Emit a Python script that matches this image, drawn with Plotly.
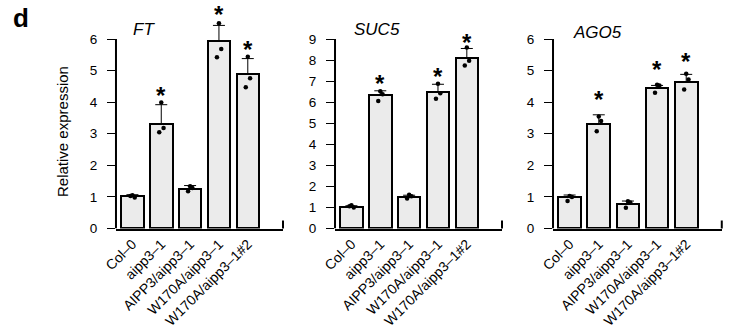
import plotly.graph_objects as go

# ---------------- data ----------------
categories = ["Col–0", "aipp3–1", "AIPP3/aipp3–1",
              "W170A/aipp3–1", "W170A/aipp3–1#2"]

ft_mean = [1.02, 3.32, 1.26, 5.93, 4.88]
ft_err = [0.05, 0.60, 0.10, 0.50, 0.50]
ft_reps = [[1.05, 0.98, 1.03], [3.99, 3.18, 3.05], [1.34, 1.28, 1.18],
           [6.50, 5.68, 5.42], [5.44, 4.76, 4.47]]
ft_star = [None, 4.28, None, 6.83, 5.73]

suc5_mean = [1.00, 6.32, 1.48, 6.50, 8.10]
suc5_err = [0.08, 0.22, 0.10, 0.35, 0.45]
suc5_reps = [[1.11, 1.00, 1.06], [6.52, 6.38, 6.05], [1.60, 1.53, 1.42],
             [6.88, 6.42, 6.16], [8.60, 7.97, 7.74]]
suc5_star = [None, 7.00, None, 7.30, 8.92]

ago5_mean = [1.00, 3.32, 0.78, 4.45, 4.64]
ago5_err = [0.06, 0.28, 0.09, 0.08, 0.24]
ago5_reps = [[1.03, 1.00, 0.87], [3.55, 3.40, 3.08], [0.86, 0.82, 0.66],
             [4.55, 4.53, 4.30], [4.90, 4.72, 4.40]]
ago5_star = [None, 4.15, None, 5.10, 5.35]

gene_titles = ["FT", "SUC5", "AGO5"]
y_max = [6, 9, 6]

# ---------------- style ----------------
FONT = "Liberation Sans, Arial, Helvetica, sans-serif"
BAR_FILL = "#ebebeb"
W, H = 735, 333
x_domains = [[0.1578, 0.385], [0.4558, 0.683], [0.7524, 0.982]]
y0_px, ytop_px = 228.5, 39.0          # pixel rows of 0 and of the top tick
headroom = 1.2                         # extra range above top tick (for error bars / stars)
dom_bottom = 1 - y0_px / H
dom_top = 1 - (y0_px - headroom * (y0_px - ytop_px)) / H
x_range = [-0.57, 5.22]
rep_offsets = [0.0, 0.08, -0.07]

panels = [
    (ft_mean, ft_err, ft_reps, ft_star),
    (suc5_mean, suc5_err, suc5_reps, suc5_star),
    (ago5_mean, ago5_err, ago5_reps, ago5_star),
]

fig = go.Figure()
xpos = list(range(len(categories)))

for p, (mean, err, reps, star) in enumerate(panels):
    xa = "x" if p == 0 else f"x{p+1}"
    ya = "y" if p == 0 else f"y{p+1}"
    fig.add_trace(go.Bar(
        x=xpos, y=mean, xaxis=xa, yaxis=ya, width=0.78,
        marker=dict(color=BAR_FILL, line=dict(color="black", width=2)),
        error_y=dict(type="data", symmetric=False, array=err,
                     arrayminus=[0] * len(err), color="black",
                     thickness=1, width=6),
        cliponaxis=False, showlegend=False, hoverinfo="skip"))
    dx, dy = [], []
    for i, vals in enumerate(reps):
        for k, v in enumerate(vals):
            dx.append(i + rep_offsets[k])
            dy.append(v)
    fig.add_trace(go.Scatter(
        x=dx, y=dy, xaxis=xa, yaxis=ya, mode="markers",
        marker=dict(color="black", size=4.5),
        cliponaxis=False, showlegend=False, hoverinfo="skip"))
    # significance asterisks
    for i, s in enumerate(star):
        if s is None:
            continue
        fig.add_annotation(x=xpos[i], y=s, xref=xa, yref=ya, text="<b>*</b>",
                           showarrow=False, yshift=-2, xanchor="center",
                           yanchor="middle",
                           font=dict(family=FONT, size=24, color="black"))

layout = dict(
    width=W, height=H, margin=dict(l=0, r=0, t=0, b=0, autoexpand=False),
    paper_bgcolor="white", plot_bgcolor="white",
    font=dict(family=FONT, color="black"),
    bargap=0,
)
for p in range(3):
    xk = "xaxis" if p == 0 else f"xaxis{p+1}"
    yk = "yaxis" if p == 0 else f"yaxis{p+1}"
    layout[xk] = dict(
        domain=x_domains[p], range=x_range, anchor="y" if p == 0 else f"y{p+1}",
        showline=True, linecolor="black", linewidth=2, showgrid=False,
        zeroline=False, tickvals=xpos, ticktext=categories, ticks="",
        tickangle=-45, automargin=False,
        tickfont=dict(size=14, family=FONT, color="black"))
    layout[yk] = dict(
        domain=[dom_bottom, dom_top], range=[0, y_max[p] * headroom],
        tickvals=list(range(y_max[p] + 1)),
        anchor="x" if p == 0 else f"x{p+1}",
        showline=False, showgrid=False, automargin=False,
        zeroline=False, ticks="outside", ticklen=8, tickwidth=1, tickcolor="black",
        ticklabelstandoff=7,
        tickfont=dict(size=13.5, family=FONT, color="black"))
fig.update_layout(**layout)

for p in range(3):
    xa = "x" if p == 0 else f"x{p+1}"
    ya = "y" if p == 0 else f"y{p+1}"
    # y-axis line from 0 to the top tick
    fig.add_shape(type="line", xref=f"{xa} domain", yref=ya,
                  x0=0, x1=0, y0=0, y1=y_max[p],
                  line=dict(color="black", width=2))
    # small upward end tick at the right end of the x axis
    fig.add_shape(type="line", xref=f"{xa} domain", yref="paper",
                  x0=1, x1=1, y0=dom_bottom, y1=dom_bottom + 8 / H,
                  line=dict(color="black", width=2))

title_x = [144, 376.5, 597]
title_y = [30, 30, 32]
for p in range(3):
    fig.add_annotation(text=f"<i>{gene_titles[p]}</i>", xref="paper", yref="paper",
                       x=title_x[p] / W, y=1 - title_y[p] / H,
                       xanchor="center", yanchor="middle", showarrow=False,
                       font=dict(size=17, family=FONT, color="black"))

fig.add_annotation(text="Relative expression", xref="paper", yref="paper",
                   x=62 / W, y=1 - 131 / H, textangle=-90,
                   xanchor="center", yanchor="middle", showarrow=False,
                   font=dict(size=15, family=FONT, color="black"))
fig.add_annotation(text="<b>d</b>", xref="paper", yref="paper",
                   x=21 / W, y=1 - 18 / H, xanchor="center", yanchor="middle",
                   showarrow=False, font=dict(size=26, family=FONT, color="black"))

fig.write_html("out.html")
